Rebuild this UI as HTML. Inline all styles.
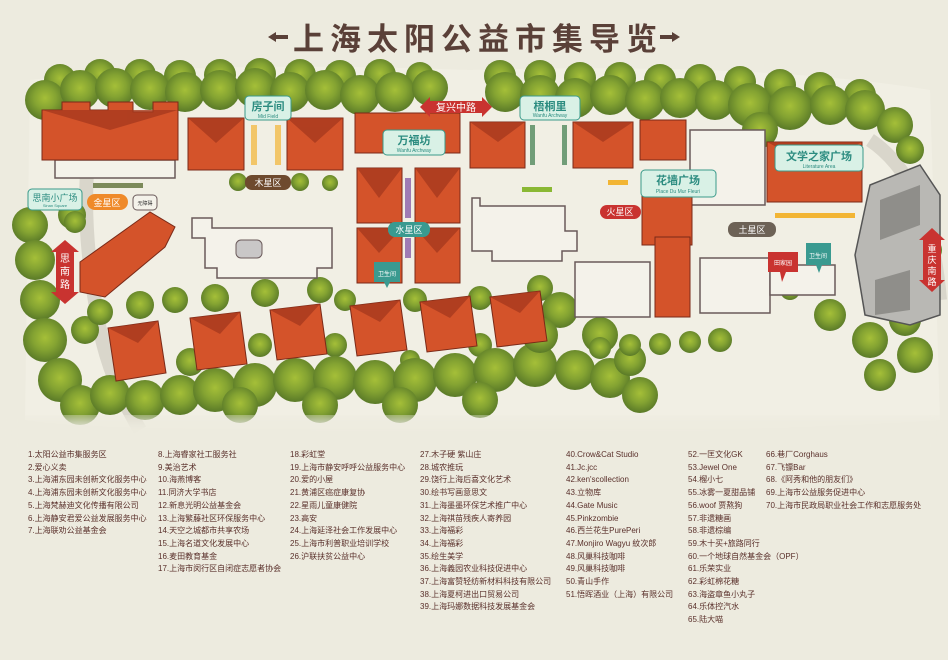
<!DOCTYPE html>
<html><head><meta charset="utf-8"><style>
html,body{margin:0;padding:0;background:#edebdf;}
body{width:948px;height:660px;overflow:hidden;position:relative;font-family:"Liberation Sans","Noto Sans CJK SC",sans-serif;}
.leg{position:absolute;font-size:8px;color:#5a302b;line-height:12.7px;white-space:nowrap;}
</style></head><body>
<svg width="948" height="660" style="position:absolute;left:0;top:0">
<defs>
<radialGradient id="tg" cx="50%" cy="45%" r="55%"><stop offset="0" stop-color="#a5bf38"/><stop offset="0.5" stop-color="#84a332"/><stop offset="1" stop-color="#5a7a28"/></radialGradient>
<filter id="bl"><feGaussianBlur stdDeviation="8"/></filter>
</defs>
<rect width="948" height="660" fill="#edebdf"/>
<path d="M30 80 Q200 60 470 70 Q760 62 930 90 L940 420 Q600 440 300 430 Q100 430 25 420 Z" fill="#f1efe4"/>
<text x="478" y="50" text-anchor="middle" font-size="31" font-weight="bold" fill="#5a4038" letter-spacing="6" font-family="Liberation Sans,Noto Sans CJK SC,sans-serif">上海太阳公益市集导览</text>
<path d="M268 37 l8 -5 v3 h12 v4 h-12 v3 z" fill="#5a4038"/>
<path d="M680 37 l-8 -5 v3 h-12 v4 h12 v3 z" fill="#5a4038"/>
<path d="M95 120 Q75 200 100 330 Q110 380 140 430" stroke="#d9d6cb" stroke-width="14" fill="none"/>
<path d="M870 140 Q930 180 940 300" stroke="#d9d6cb" stroke-width="14" fill="none"/>
<g fill="url(#tg)">
<circle cx="60" cy="80" r="16"/><circle cx="100" cy="75" r="16"/><circle cx="140" cy="75" r="16"/><circle cx="180" cy="76" r="16"/><circle cx="220" cy="75" r="16"/><circle cx="260" cy="74" r="16"/><circle cx="300" cy="75" r="16"/><circle cx="340" cy="76" r="16"/><circle cx="380" cy="75" r="16"/><circle cx="420" cy="76" r="14"/><circle cx="500" cy="76" r="16"/><circle cx="540" cy="76" r="16"/><circle cx="580" cy="78" r="16"/><circle cx="620" cy="78" r="16"/><circle cx="660" cy="80" r="16"/><circle cx="700" cy="80" r="16"/><circle cx="740" cy="82" r="16"/><circle cx="780" cy="85" r="16"/><circle cx="820" cy="88" r="16"/><circle cx="860" cy="95" r="16"/>
<circle cx="45" cy="100" r="20"/><circle cx="80" cy="90" r="20"/><circle cx="115" cy="88" r="20"/><circle cx="150" cy="90" r="20"/><circle cx="185" cy="92" r="20"/><circle cx="220" cy="90" r="20"/><circle cx="255" cy="88" r="20"/><circle cx="290" cy="92" r="20"/><circle cx="325" cy="90" r="20"/><circle cx="360" cy="95" r="20"/><circle cx="395" cy="92" r="20"/><circle cx="430" cy="88" r="18"/><circle cx="505" cy="92" r="20"/><circle cx="540" cy="95" r="20"/><circle cx="575" cy="98" r="20"/><circle cx="610" cy="95" r="20"/><circle cx="645" cy="100" r="20"/><circle cx="680" cy="98" r="20"/><circle cx="715" cy="100" r="20"/><circle cx="750" cy="105" r="22"/><circle cx="790" cy="108" r="22"/><circle cx="830" cy="105" r="20"/><circle cx="865" cy="110" r="20"/><circle cx="895" cy="125" r="18"/><circle cx="760" cy="130" r="18"/>
<circle cx="30" cy="225" r="18"/><circle cx="35" cy="260" r="20"/><circle cx="40" cy="300" r="20"/><circle cx="45" cy="340" r="22"/><circle cx="60" cy="380" r="22"/><circle cx="80" cy="405" r="20"/><circle cx="72" cy="215" r="14"/><circle cx="85" cy="330" r="14"/>
<circle cx="100" cy="312" r="13"/><circle cx="140" cy="305" r="14"/><circle cx="175" cy="300" r="13"/><circle cx="215" cy="298" r="14"/><circle cx="265" cy="293" r="14"/><circle cx="320" cy="290" r="13"/><circle cx="345" cy="300" r="11"/><circle cx="415" cy="300" r="12"/><circle cx="480" cy="298" r="12"/><circle cx="540" cy="288" r="13"/>
<circle cx="190" cy="362" r="14"/><circle cx="260" cy="345" r="12"/><circle cx="335" cy="345" r="12"/><circle cx="480" cy="345" r="12"/><circle cx="410" cy="360" r="10"/>
<circle cx="110" cy="395" r="20"/><circle cx="145" cy="400" r="20"/><circle cx="180" cy="395" r="20"/><circle cx="215" cy="390" r="22"/><circle cx="255" cy="385" r="22"/><circle cx="295" cy="380" r="22"/><circle cx="335" cy="378" r="22"/><circle cx="375" cy="382" r="22"/><circle cx="415" cy="380" r="22"/><circle cx="455" cy="375" r="22"/><circle cx="495" cy="370" r="22"/><circle cx="535" cy="365" r="22"/><circle cx="575" cy="370" r="20"/><circle cx="610" cy="378" r="20"/><circle cx="640" cy="395" r="18"/><circle cx="560" cy="310" r="18"/><circle cx="540" cy="335" r="18"/><circle cx="600" cy="335" r="18"/><circle cx="630" cy="360" r="16"/>
<circle cx="240" cy="405" r="18"/><circle cx="320" cy="405" r="18"/><circle cx="400" cy="405" r="18"/><circle cx="480" cy="400" r="18"/>
<circle cx="600" cy="348" r="11"/><circle cx="630" cy="345" r="11"/><circle cx="660" cy="344" r="11"/><circle cx="690" cy="342" r="11"/><circle cx="720" cy="340" r="12"/>
<circle cx="820" cy="280" r="12"/><circle cx="790" cy="290" r="10"/><circle cx="830" cy="315" r="16"/><circle cx="870" cy="340" r="18"/><circle cx="905" cy="320" r="16"/><circle cx="915" cy="355" r="18"/><circle cx="880" cy="375" r="16"/><circle cx="930" cy="250" r="12"/><circle cx="910" cy="150" r="14"/>
<circle cx="238" cy="182" r="9"/><circle cx="300" cy="182" r="9"/><circle cx="330" cy="183" r="8"/><circle cx="75" cy="222" r="11"/>
</g>
<rect x="0" y="418" width="948" height="30" fill="#edebdf" filter="url(#bl)"/>
<g fill="#f4f2ea" stroke="#6a5a5a" stroke-width="1.5">
<rect x="55" y="160" width="120" height="18"/>
<path d="M192 218 h20 v10 h120 v40 h-15 v10 h-100 v-10 h-12 v-30 h-13 z"/>
<path d="M472 198 h8 v8 h85 v25 h12 v20 h-15 v10 h-70 v-10 h-20 z"/>
<rect x="690" y="130" width="75" height="75"/>
<path d="M575 262 h75 v55 h-75 z"/>
<path d="M700 258 h70 v55 h-70 z"/>
<path d="M770 265 h65 v30 h-65 z"/>
</g>
<rect x="236" y="240" width="26" height="18" rx="5" fill="#c9c7c7" stroke="#6a5a5a"/>
<path d="M870 185 l50 -20 l20 30 v120 l-30 10 l-45 -10 l-10 -60 z" fill="#b9b8b4" stroke="#555" stroke-width="1.5"/>
<path d="M880 200 l40 -15 v40 l-40 15 z" fill="#8f8e8a"/>
<path d="M875 280 l35 -10 v40 l-35 5 z" fill="#8f8e8a"/>
<g fill="#d4532a" stroke="#7a2a18" stroke-width="1">
<path d="M42 110 h20 v-8 h28 v8 h18 v-8 h25 v10 h20 v-10 h25 v58 h-136 z"/>
<rect x="188" y="118" width="56" height="52"/>
<rect x="287" y="118" width="56" height="52"/>
<rect x="355" y="113" width="105" height="40"/>
<rect x="357" y="168" width="45" height="55"/><rect x="415" y="168" width="45" height="55"/>
<rect x="357" y="228" width="45" height="55"/><rect x="415" y="228" width="45" height="55"/>
<rect x="470" y="122" width="55" height="46"/><rect x="573" y="122" width="60" height="46"/>
<rect x="640" y="120" width="46" height="40"/>
<rect x="767" y="142" width="95" height="60"/>
<rect x="642" y="195" width="50" height="50"/>
<path d="M80 262 l70 -50 l25 15 l-10 20 l-60 50 l-25 -5 z"/>
<rect x="655" y="237" width="35" height="80"/>
<path d="M108 328 l50 -7 l8 52 l-50 8 z"/><path d="M190 318 l50 -6 l7 52 l-50 6 z"/><path d="M270 310 l50 -6 l7 50 l-50 6 z"/><path d="M350 306 l50 -6 l7 50 l-50 6 z"/><path d="M420 302 l50 -6 l7 50 l-50 6 z"/><path d="M490 297 l50 -6 l7 50 l-50 6 z"/>
</g>
<g fill="#a83a1e" opacity="0.8">
<path d="M188 118 h56 l-28 25 z"/><path d="M287 118 h56 l-28 25 z"/><path d="M767 142 h95 l-47 25 z"/>
<path d="M357 168 l22 30 l23 -30 z"/><path d="M415 168 l22 30 l23 -30 z"/><path d="M357 228 l22 25 l23 -25 z"/><path d="M415 228 l22 25 l23 -25 z"/>
<path d="M470 122 h55 l-27 20 z"/><path d="M573 122 h60 l-30 20 z"/><path d="M42 110 h136 l-68 20 z"/>
<path d="M108 328 l50 -7 l-20 22 z"/><path d="M190 318 l50 -6 l-20 22 z"/><path d="M270 310 l50 -6 l-20 22 z"/><path d="M350 306 l50 -6 l-20 22 z"/><path d="M420 302 l50 -6 l-20 22 z"/><path d="M490 297 l50 -6 l-20 22 z"/>
</g>
<g font-family="Liberation Sans,Noto Sans CJK SC,sans-serif" text-anchor="middle">
<rect x="245" y="96" width="46" height="24" rx="4" fill="#d9f1e6" stroke="#3a9a8a"/><text x="268" y="110" font-size="11" fill="#2c8c80" font-weight="bold">房子间</text><text x="268" y="118" font-size="5" fill="#2c8c80">Mid Field</text>
<path d="M420 107 l10 -10 v4 h52 v-4 l10 10 l-10 10 v-4 h-52 v4 z" fill="#c93330"/><text x="456" y="111" font-size="10" fill="#fff">复兴中路</text>
<rect x="520" y="96" width="60" height="24" rx="4" fill="#d9f1e6" stroke="#3a9a8a"/><text x="550" y="110" font-size="11" fill="#2c8c80" font-weight="bold">梧桐里</text><text x="550" y="117" font-size="5" fill="#2c8c80">Wanfu Archway</text>
<rect x="383" y="130" width="62" height="25" rx="4" fill="#d9f1e6" stroke="#3a9a8a"/><text x="414" y="144" font-size="11" fill="#2c8c80" font-weight="bold">万福坊</text><text x="414" y="152" font-size="5" fill="#2c8c80">Wanfu Archway</text>
<rect x="245" y="175" width="46" height="15" rx="7" fill="#6e4a2e"/><text x="268" y="186" font-size="9" fill="#fff">木星区</text>
<rect x="28" y="189" width="54" height="21" rx="4" fill="#d9f1e6" stroke="#3a9a8a"/><text x="55" y="201" font-size="9" fill="#2c8c80">思南小广场</text><text x="55" y="207" font-size="4" fill="#2c8c80">Sinan Square</text>
<rect x="87" y="194" width="41" height="16" rx="8" fill="#ef8a2a"/><text x="107" y="206" font-size="9" fill="#fff">金星区</text>
<rect x="133" y="195" width="24" height="15" rx="4" fill="#f4f2ea" stroke="#6a5a5a"/><text x="145" y="205" font-size="5" fill="#333">无障碍</text>
<path d="M65 240 l-14 12 h5 v40 h-5 l14 12 l14 -12 h-5 v-40 h5 z" fill="#c93330"/><text x="65" y="262" font-size="10" fill="#fff">思</text><text x="65" y="275" font-size="10" fill="#fff">南</text><text x="65" y="288" font-size="10" fill="#fff">路</text>
<rect x="388" y="222" width="42" height="15" rx="7" fill="#3a9a90"/><text x="409" y="233" font-size="9" fill="#fff">水星区</text>
<path d="M374 262 h26 v20 h-10 l-3 6 l-3 -6 h-10 z" fill="#3a9a90"/><text x="387" y="276" font-size="6" fill="#fff">卫生间</text>
<rect x="600" y="205" width="41" height="14" rx="7" fill="#c93330"/><text x="620" y="215" font-size="9" fill="#fff">火星区</text>
<rect x="641" y="170" width="75" height="27" rx="4" fill="#d9f1e6" stroke="#3a9a8a"/><text x="678" y="184" font-size="11" fill="#2c8c80" font-weight="bold">花墙广场</text><text x="678" y="193" font-size="5" fill="#2c8c80">Place Du Mur Fleuri</text>
<rect x="775" y="145" width="88" height="26" rx="4" fill="#d9f1e6" stroke="#3a9a8a"/><text x="819" y="160" font-size="11" fill="#2c8c80" font-weight="bold">文学之家广场</text><text x="819" y="168" font-size="5" fill="#2c8c80">Literature Area</text>
<rect x="728" y="222" width="48" height="15" rx="7" fill="#6d6256"/><text x="752" y="233" font-size="9" fill="#fff">土星区</text>
<path d="M768 252 h30 v20 h-12 l-4 10 l-2 -10 h-12 z" fill="#c93330"/><text x="783" y="265" font-size="6" fill="#fff">田家园</text>
<path d="M806 243 h25 v22 h-9 l-3 8 l-3 -8 h-10 z" fill="#3a9a90"/><text x="818" y="258" font-size="6" fill="#fff">卫生间</text>
<path d="M932 228 l-13 12 h4 v40 h-4 l13 12 l13 -12 h-4 v-40 h4 z" fill="#c93330"/><text x="932" y="252" font-size="9" fill="#fff">重</text><text x="932" y="263" font-size="9" fill="#fff">庆</text><text x="932" y="274" font-size="9" fill="#fff">南</text><text x="932" y="285" font-size="9" fill="#fff">路</text>
</g>
<g>
<rect x="251" y="125" width="6" height="40" fill="#f2b534" opacity=".7"/><rect x="275" y="125" width="6" height="40" fill="#f2b534" opacity=".7"/>
<rect x="405" y="178" width="6" height="40" fill="#7a4aa0" opacity=".7"/><rect x="405" y="238" width="6" height="20" fill="#7a4aa0" opacity=".7"/>
<rect x="530" y="125" width="5" height="40" fill="#3a7a4a" opacity=".7"/><rect x="562" y="125" width="5" height="40" fill="#3a7a4a" opacity=".7"/>
<rect x="522" y="187" width="30" height="5" fill="#8ab834"/><rect x="608" y="180" width="20" height="5" fill="#f2b534"/>
<rect x="775" y="213" width="80" height="5" fill="#f2b534"/><rect x="93" y="183" width="50" height="5" fill="#7c8a5a"/>
</g>
</svg>
<div class="leg" style="left:28px;top:449px">1.太阳公益市集服务区<br>2.爱心义卖<br>3.上海浦东园未创新文化服务中心<br>4.上海浦东园未创新文化服务中心<br>5.上海梵赫迪文化传播有限公司<br>6.上海静安君爱公益发展服务中心<br>7.上海联劝公益基金会</div>
<div class="leg" style="left:158px;top:449px">8.上海睿家社工服务社<br>9.美治艺术<br>10.海燕博客<br>11.同济大学书店<br>12.新息光明公益基金会<br>13.上海繁藤社区环保服务中心<br>14.天空之城都市共享农场<br>15.上海名道文化发展中心<br>16.麦田教育基金<br>17.上海市闵行区自闭症志愿者协会</div>
<div class="leg" style="left:290px;top:449px">18.彩虹堂<br>19.上海市静安呼呼公益服务中心<br>20.爱的小屋<br>21.黄浦区癌症康复协<br>22.星雨儿童康健院<br>23.高安<br>24.上海延泽社会工作发展中心<br>25.上海市利普职业培训学校<br>26.沪联扶贫公益中心</div>
<div class="leg" style="left:420px;top:449px">27.木子硬 紫山庄<br>28.城农推玩<br>29.饶行上海后喜文化艺术<br>30.绘书写画意思文<br>31.上海墨墨环保艺术推广中心<br>32.上海祺苗残疾人寄养园<br>33.上海福彩<br>34.上海福彩<br>35.绘生美学<br>36.上海義园农业科技促进中心<br>37.上海富赞轻纺新材料科技有限公司<br>38.上海夏柯进出口贸易公司<br>39.上海玛娜数据科技发展基金会</div>
<div class="leg" style="left:566px;top:449px">40.Crow&amp;Cat Studio<br>41.Jc.jcc<br>42.ken'scollection<br>43.立物库<br>44.Gate Music<br>45.Pinkzombie<br>46.西兰花生PurePeri<br>47.Monjiro Wagyu 紋次郎<br>48.风巢科技咖啡<br>49.风巢科技咖啡<br>50.青山手作<br>51.悟晖酒业（上海）有限公司</div>
<div class="leg" style="left:688px;top:449px">52.一匡文化GK<br>53.Jewel One<br>54.榴小七<br>55.冰雾一夏甜品铺<br>56.woof 贾熬狗<br>57.非遗糖画<br>58.非遗棕编<br>59.木十买+旅路同行<br>60.一个地球自然基金会（OPF）<br>61.乐荣实业<br>62.彩虹棉花糖<br>63.海盗章鱼小丸子<br>64.乐体控汽水<br>65.陆大喵</div>
<div class="leg" style="left:766px;top:449px">66.巷厂Corghaus<br>67.飞镖Bar<br>68.《阿秀和他的朋友们》<br>69.上海市公益服务促进中心<br>70.上海市民政局职业社会工作和志愿服务处</div>
</body></html>
